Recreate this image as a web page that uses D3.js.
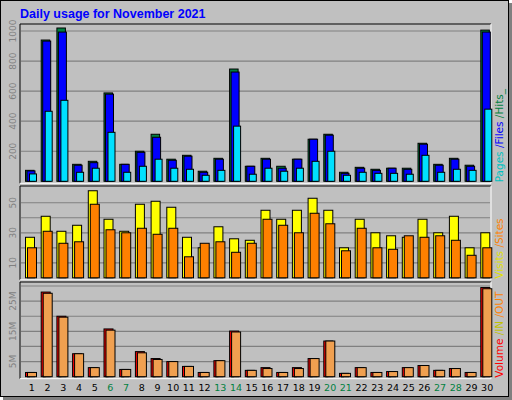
<!DOCTYPE html><html><head><meta charset="utf-8">
<script src="https://cdn.jsdelivr.net/npm/d3@7"></script>
<style>body{margin:0;background:#fff}</style></head><body><svg id="c" width="512" height="400"></svg>
<script>
const days = d3.range(1,31);
const weekend = [6,7,13,14,20,21,27,28];
const hits  = [73,940,1020,113,133,588,113,200,313,147,173,67,153,747,100,153,100,147,280,313,60,93,80,87,87,253,113,153,107,1006];
const files = [69,933,993,107,124,580,113,193,293,140,167,60,147,727,100,147,87,147,280,307,53,87,73,87,80,247,107,147,100,993];
const pages = [49,466,539,60,87,326,60,100,147,87,80,40,73,367,47,87,67,87,133,200,40,60,53,53,47,173,60,80,73,480];
const visits= [27,41,31,35,58,39,31,49,51,47,27,20,34,26,25,45,39,45,53,45,20,39,30,28,27,39,30,41,20,30];
const sites = [20,31,23,24,49,32,30,33,29,33,14,23,24,17,23,39,35,30,43,36,18,33,20,19,28,27,28,25,15,20];
const volume= [1.4,28,20,7.6,3.0,15.8,2.4,8.3,6.0,5.0,3.4,1.4,5.3,15.1,2.1,3.0,1.4,3.0,6.0,11.8,1.1,3.0,1.4,1.7,3.0,3.7,2.1,2.7,1.4,29.5];
const volIn = [0.2,0.4,0.3,0.2,0.2,0.3,0.1,0.2,0.2,0.1,0.1,0.1,0.1,0.3,0.1,0.1,0.1,0.1,0.1,0.2,0.1,0.1,0.1,0.1,0.1,0.1,0.1,0.1,0.1,0.4];
const volOut= [1.4,27.6,19.7,7.6,3.0,15.4,2.4,7.9,5.7,5.0,3.4,1.4,5.3,14.8,2.1,2.7,1.4,2.7,6.0,11.8,1.1,3.0,1.4,1.7,3.0,3.7,2.1,2.7,1.4,29.1];
const ticksTop=[200,400,600,800,1000], ticksMid=[10,20,30,40,50], ticksBot=[5,10,15,20,25,30];
const tickLabTop=[200,400,600,800,1000], tickLabMid=[10,30,50], tickLabBot=[5,15,25];

const svg=d3.select("#c");
svg.append("rect").attr("x",0.5).attr("y",0.5).attr("width",508).attr("height",396).attr("fill","#c0c0c0").attr("stroke","#000");
svg.append("rect").attr("x",509).attr("y",3).attr("width",3).attr("height",397).attr("fill","#808080");
svg.append("rect").attr("x",3).attr("y",397).attr("width",509).attr("height",3).attr("fill","#808080");
svg.append("text").attr("x",20).attr("y",18).text("Daily usage for November 2021")
  .attr("font-family","Liberation Sans, Arial, sans-serif").attr("font-weight","bold").attr("font-size",12.5).attr("fill","#0000ff");

const X0=20, X1=491;
const x=d3.scaleBand().domain(days).range([X0,X1]).paddingInner(0);
const font="DejaVu Sans, sans-serif";

function panel(y0,y1,max,grid,labs,series,labels){
  const y=d3.scaleLinear().domain([0,max]).range([y1,y0]);
  const g=svg.append("g");
  g.append("line").attr("x1",X0).attr("x2",X1).attr("y1",y0-1).attr("y2",y0-1).attr("stroke","#000");
  g.append("line").attr("x1",X0).attr("x2",X0).attr("y1",y0-1).attr("y2",y1+2).attr("stroke","#000");
  g.append("line").attr("x1",X0).attr("x2",X1).attr("y1",y1+2).attr("y2",y1+2).attr("stroke","#fff");
  g.append("line").attr("x1",X1).attr("x2",X1).attr("y1",y0-1).attr("y2",y1+2).attr("stroke","#fff");
  grid.forEach(t=>g.append("line").attr("x1",X0+1).attr("x2",X1-1).attr("y1",y(t)).attr("y2",y(t)).attr("stroke","#808080").attr("stroke-width",1.2));
  labs.forEach(t=>{const yy=y(t);g.append("text").attr("transform",`translate(16,${yy}) rotate(-90)`).attr("text-anchor","middle")
    .attr("font-family",font).attr("font-size",9).attr("fill","#808080").text(t+(series.isVol?"M":""));});
  series.list.forEach(s=>{
    g.selectAll(null).data(days).enter().append("rect")
      .attr("x",d=>x(d)+s.off).attr("width",s.w)
      .attr("y",(d,i)=>y(s.data[i])).attr("height",(d,i)=>Math.max(0,y1-y(s.data[i])))
      .attr("fill",s.color).attr("stroke","#000").attr("stroke-width",1);
  });
  const t=g.append("text").attr("transform",`translate(503,${y1+1}) rotate(-90)`).attr("text-anchor","start")
    .attr("font-family",font).attr("font-size",10.5);
  labels.forEach(l=>t.append("tspan").attr("fill",l[1]).text(l[0]));
  return y;
}
panel(25,181.3,1040,ticksTop,tickLabTop,{list:[
  {data:hits,color:"#008040",off:5.5,w:8.5},
  {data:files,color:"#0000ff",off:7,w:8},
  {data:pages,color:"#00e0ff",off:9.5,w:7}]},[["Pages","#00c0c0"],[" /Files","#0000ff"],[" /Hits_","#008040"]]);
panel(187,277.8,60.5,ticksMid,tickLabMid,{list:[
  {data:visits,color:"#ffff00",off:5.5,w:9},
  {data:sites,color:"#ff8000",off:7.5,w:9}]},[["Visits","#e0e000"],[" /Sites","#ff8000"]]);
panel(283,376.7,31,ticksBot,tickLabBot,{isVol:true,list:[
  {data:volume,color:"#ff0000",off:5.5,w:9},
  {data:volIn,color:"#c0c000",off:7.5,w:2},
  {data:volOut,color:"#f0a050",off:7.5,w:9}]},[["Volume","#ff0000"],[" /IN","#c0c000"],[" /OUT","#ff8000"]]);
svg.selectAll(".dl").data(days).enter().append("text")
  .attr("x",d=>x(d)+x.bandwidth()/2+4).attr("y",391).attr("text-anchor","middle")
  .attr("font-family",font).attr("font-size",9.5).attr("fill",d=>weekend.includes(d)?"#008040":"#000").text(d=>d);
</script></body></html>
